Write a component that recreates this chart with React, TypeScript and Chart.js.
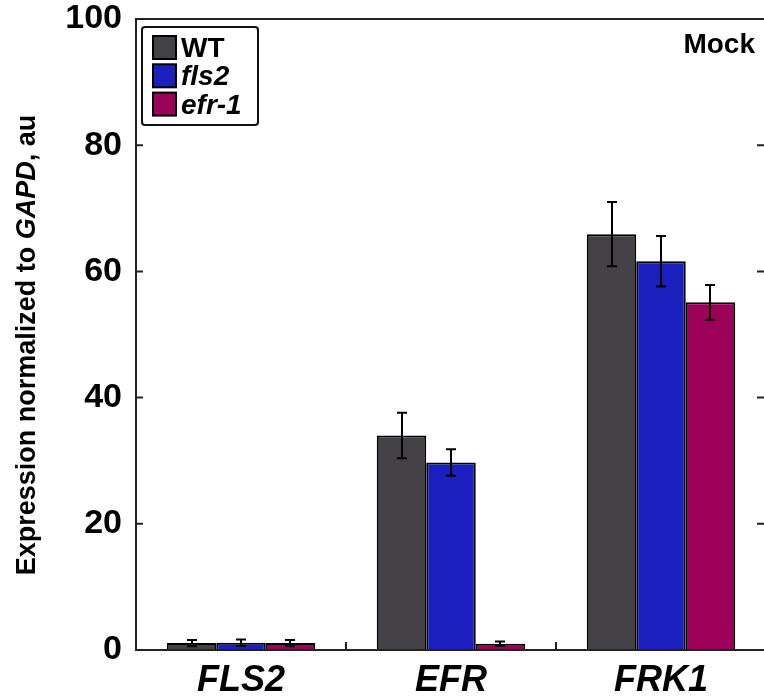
import React, { useEffect, useRef } from "react";
import { Chart, registerables } from "chart.js";

Chart.register(...registerables);

const categories = ["FLS2", "EFR", "FRK1"];
const seriesNames = ["WT", "fls2", "efr-1"];
const seriesItalic = [false, true, true];
const wtValues = [1.1, 34.0, 65.9];
const fls2Values = [1.15, 29.7, 61.6];
const efr1Values = [1.1, 1.0, 55.1];
const wtErrors = [0.5, 3.6, 5.1];
const fls2Errors = [0.5, 2.1, 4.0];
const efr1Errors = [0.5, 0.35, 2.75];
const yTicks = [0, 20, 40, 60, 80, 100];
const colors = ["#434146", "#1b1fbd", "#9c0058"];
const panelLabel = "Mock";

const FONT = "'Liberation Sans', Arial, Helvetica, sans-serif";

const values = [wtValues, fls2Values, efr1Values];
const errors = [wtErrors, fls2Errors, efr1Errors];

const decorPlugin = {
  id: "decor",
  afterDatasetsDraw(chart: any) {
    const ctx = chart.ctx as CanvasRenderingContext2D;
    const area = chart.chartArea;
    const yScale = chart.scales.y;
    const xScale = chart.scales.x;
    ctx.save();

    // error bars
    ctx.strokeStyle = "#000";
    ctx.lineWidth = 2;
    chart.data.datasets.forEach((ds: any, di: number) => {
      const meta = chart.getDatasetMeta(di);
      meta.data.forEach((el: any, i: number) => {
        const v = values[di][i];
        const e = errors[di][i];
        const x = Math.round(el.x);
        const yt = yScale.getPixelForValue(v + e);
        const yb = yScale.getPixelForValue(v - e);
        ctx.beginPath();
        ctx.moveTo(x, yt);
        ctx.lineTo(x, yb);
        ctx.moveTo(x - 5, yt);
        ctx.lineTo(x + 5, yt);
        ctx.moveTo(x - 5, yb);
        ctx.lineTo(x + 5, yb);
        ctx.stroke();
      });
    });

    // frame
    ctx.strokeStyle = "#222";
    ctx.lineWidth = 2;
    ctx.beginPath();
    ctx.moveTo(area.left, area.top);
    ctx.lineTo(area.right, area.top);
    ctx.moveTo(area.left, area.top - 1);
    ctx.lineTo(area.left, area.bottom + 1);
    ctx.moveTo(area.left - 1, area.bottom);
    ctx.lineTo(area.right, area.bottom);
    ctx.moveTo(area.right, area.top);
    ctx.lineTo(area.right, area.bottom);
    ctx.stroke();

    // inward ticks
    ctx.beginPath();
    yTicks.forEach((t) => {
      const y = yScale.getPixelForValue(t);
      ctx.moveTo(area.left, y);
      ctx.lineTo(area.left + 7, y);
      ctx.moveTo(area.right, y);
      ctx.lineTo(area.right - 9, y);
    });
    for (let i = 1; i < categories.length; i++) {
      const x = (xScale.getPixelForValue(i - 1) + xScale.getPixelForValue(i)) / 2;
      ctx.moveTo(x, area.bottom);
      ctx.lineTo(x, area.bottom - 8);
    }
    ctx.stroke();

    // legend
    const lx = 142, ly = 27, lw = 116, lh = 98;
    ctx.fillStyle = "#fff";
    ctx.lineWidth = 2;
    ctx.strokeStyle = "#111";
    ctx.beginPath();
    (ctx as any).roundRect ? (ctx as any).roundRect(lx, ly, lw, lh, 3) : ctx.rect(lx, ly, lw, lh);
    ctx.fill();
    ctx.stroke();
    seriesNames.forEach((name, i) => {
      const sy = 36 + i * 28.3;
      ctx.fillStyle = colors[i];
      ctx.fillRect(153, sy, 23, 23);
      ctx.strokeStyle = "#000";
      ctx.strokeRect(153, sy, 23, 23);
      ctx.fillStyle = "#000";
      ctx.font = `${seriesItalic[i] ? "italic " : ""}bold 28px ${FONT}`;
      ctx.textAlign = "left";
      ctx.textBaseline = "alphabetic";
      ctx.fillText(name, 181, sy + 21);
    });

    // panel label
    ctx.font = `bold 28px ${FONT}`;
    ctx.textAlign = "right";
    ctx.fillStyle = "#000";
    ctx.fillText(panelLabel, 755, 53);

    // y title with italic part
    const parts = [
      { t: "Expression normalized to ", it: false },
      { t: "GAPD", it: true },
      { t: ", au", it: false },
    ];
    const fsz = 27;
    let total = 0;
    parts.forEach((p) => {
      ctx.font = `${p.it ? "italic " : ""}bold ${fsz}px ${FONT}`;
      total += ctx.measureText(p.t).width;
    });
    ctx.translate(35, 345);
    ctx.rotate(-Math.PI / 2);
    let cx = -total / 2;
    ctx.textAlign = "left";
    ctx.textBaseline = "alphabetic";
    parts.forEach((p) => {
      ctx.font = `${p.it ? "italic " : ""}bold ${fsz}px ${FONT}`;
      ctx.fillText(p.t, cx, 0);
      cx += ctx.measureText(p.t).width;
    });
    ctx.restore();
  },
};

export default function App() {
  const ref = useRef<HTMLCanvasElement | null>(null);
  useEffect(() => {
    if (!ref.current) return;
    const chart = new Chart(ref.current, {
      type: "bar",
      data: {
        labels: categories,
        datasets: seriesNames.map((name, i) => ({
          label: name,
          data: values[i],
          backgroundColor: colors[i],
          borderColor: "#000",
          borderWidth: 2,
          categoryPercentage: 0.707,
          barPercentage: 1,
        })),
      },
      options: {
        responsive: false,
        animation: false,
        devicePixelRatio: 1,
        layout: { padding: { top: 19, right: 2, left: 0, bottom: 0 } },
        plugins: {
          legend: { display: false },
          tooltip: { enabled: false },
          title: { display: false },
        },
        scales: {
          x: {
            type: "category",
            grid: { display: false, drawTicks: false, tickLength: 0 },
            border: { display: false },
            ticks: {
              color: "#000",
              padding: 9,
              font: { family: FONT, size: 36, weight: "bold", style: "italic" },
            },
            afterFit: (s: any) => {
              s.height = 46;
              s.paddingLeft = 0;
              s.paddingRight = 0;
            },
          },
          y: {
            min: 0,
            max: 100,
            grid: { display: false, drawTicks: false, tickLength: 0 },
            border: { display: false },
            ticks: {
              color: "#000",
              padding: 14,
              font: { family: FONT, size: 34, weight: "bold" },
            },
            afterBuildTicks: (s: any) => {
              s.ticks = yTicks.map((v) => ({ value: v }));
            },
            afterFit: (s: any) => {
              s.width = 136;
              s.paddingTop = 0;
              s.paddingBottom = 0;
            },
          },
        },
      } as any,
      plugins: [decorPlugin],
    });
    return () => chart.destroy();
  }, []);
  return (
    <div style={{ position: "fixed", left: 0, top: 0, width: 764, height: 696, overflow: "hidden", background: "#fff" }}>
      <canvas ref={ref} width={768} height={696} style={{ display: "block" }} />
    </div>
  );
}
